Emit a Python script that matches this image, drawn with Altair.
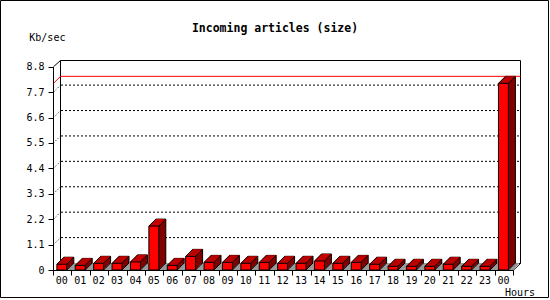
import altair as alt
import pandas as pd

# ---- data ----
hours = ["00", "01", "02", "03", "04", "05", "06", "07", "08", "09", "10", "11",
         "12", "13", "14", "15", "16", "17", "18", "19", "20", "21", "22", "23", "00"]
values = [0.25, 0.20, 0.29, 0.29, 0.35, 1.90, 0.20, 0.59, 0.33, 0.33, 0.29, 0.33,
          0.29, 0.29, 0.39, 0.29, 0.33, 0.25, 0.16, 0.16, 0.16, 0.25, 0.16, 0.16, 8.08]
y_ticks = [0, 1.1, 2.2, 3.3, 4.4, 5.5, 6.6, 7.7, 8.8]
grid_levels = [1.1, 2.2, 3.3, 4.4, 5.5, 6.6, 7.7]

title_text = "Incoming articles (size)"
y_title = "Kb/sec"
x_title = "Hours"

df = pd.DataFrame({"idx": list(range(len(hours))), "hour": hours, "value": values})
grid_df = pd.DataFrame({"v": grid_levels})
one = pd.DataFrame({"a": [0]})

MONO = "DejaVu Sans Mono"
FRONT = "#ff0000"
TOP = "#c40000"
SIDE = "#800000"
FLOOR = "#999999"
D = 7  # 3D depth in pixels

xs = alt.Scale(domain=[0, len(hours)], range=[0, 460], nice=False, zero=False)
ys = alt.Scale(domain=[0, 8.8], range=[210, 6.7], nice=False, zero=True)


def bars_base():
    return alt.Chart(df).transform_calculate(
        x0="datum.idx + 0.21", x1="datum.idx + 0.75", xc="datum.idx + 0.48"
    )


X0 = alt.X("x0:Q", scale=xs, axis=None)
X1 = alt.X2("x1:Q")
YV = alt.Y("value:Q", scale=ys, axis=None)
Y0 = alt.Y(datum=0, scale=ys, axis=None)
Y20 = alt.Y2(datum=0)

layers = []

# outer image border
layers.append(alt.Chart(one).mark_rect(filled=False, stroke="black", strokeWidth=1).encode(
    x=alt.value(-52.5), x2=alt.value(495.5), y=alt.value(-59.5), y2=alt.value(237.5)))

# back wall
layers.append(alt.Chart(one).mark_rect(filled=False, stroke="black", strokeWidth=1).encode(
    x=alt.value(7.5), x2=alt.value(467.5), y=alt.value(0.5), y2=alt.value(203.5)))

# dotted grid lines on back wall
layers.append(alt.Chart(grid_df).mark_rule(color="black", strokeDash=[2, 2], strokeWidth=1,
                                           yOffset=-D).encode(
    y=alt.Y("v:Q", scale=ys, axis=None), x=alt.value(8), x2=alt.value(467)))
# dotted diagonal connectors
layers.append(alt.Chart(grid_df).mark_rule(color="black", strokeDash=[1, 2], strokeWidth=1,
                                           y2Offset=-D).encode(
    y=alt.Y("v:Q", scale=ys, axis=None), y2=alt.Y2("v:Q"), x=alt.value(0.5), x2=alt.value(7.5)))
# solid corner connectors
layers.append(alt.Chart(one).mark_rule(color="black", strokeWidth=1).encode(
    x=alt.value(0.5), x2=alt.value(7.5), y=alt.value(6.7), y2=alt.value(0.5)))
layers.append(alt.Chart(one).mark_rule(color="black", strokeWidth=1).encode(
    x=alt.value(460), x2=alt.value(467.5), y=alt.value(210.5), y2=alt.value(203.5)))

# max line (red)
mx = alt.Chart(df).transform_aggregate(m="max(value)")
layers.append(mx.mark_rule(color="red", strokeWidth=1, yOffset=-D).encode(
    y=alt.Y("m:Q", scale=ys, axis=None), x=alt.value(7.5), x2=alt.value(467.5)))
layers.append(mx.mark_rule(color="red", strokeWidth=1, y2Offset=-D).encode(
    y=alt.Y("m:Q", scale=ys, axis=None), y2=alt.Y2("m:Q"), x=alt.value(0.5), x2=alt.value(7.5)))

# gray floor
for j in range(D):
    layers.append(alt.Chart(one).mark_rule(color=FLOOR, strokeWidth=1.1).encode(
        x=alt.value(3.7 + j), x2=alt.value(460 + j), y=alt.value(209.5 - j)))

# bar extrusion: back copy with outline, then fill copies
layers.append(bars_base().mark_bar(color=SIDE, stroke="black", strokeWidth=1,
                                   xOffset=D, x2Offset=D, yOffset=-D, y2Offset=-D).encode(
    x=X0, x2=X1, y=YV, y2=Y20))
for k in range(D - 1, 0, -1):
    layers.append(bars_base().mark_bar(color=SIDE, strokeWidth=0,
                                       xOffset=k, x2Offset=k, yOffset=-k, y2Offset=-k).encode(
        x=X0, x2=X1, y=YV, y2=Y20))
# top faces
for k in [0.5, 1.5, 2.5, 3.5, 4.5, 5.5, 6.5]:
    layers.append(bars_base().mark_rule(color=TOP, strokeWidth=1.2,
                                        xOffset=k, x2Offset=k, yOffset=-k).encode(
        x=X0, x2=X1, y=YV))
# edges
layers.append(bars_base().mark_rule(color="black", strokeWidth=1, x2Offset=D, y2Offset=-D).encode(
    x=X0, x2=alt.X2("x0:Q"), y=YV, y2=alt.Y2("value:Q")))
layers.append(bars_base().mark_rule(color="black", strokeWidth=1, x2Offset=D, y2Offset=-D).encode(
    x=alt.X("x1:Q", scale=xs, axis=None), x2=alt.X2("x1:Q"), y=YV, y2=alt.Y2("value:Q")))
layers.append(bars_base().mark_rule(color="black", strokeWidth=1, x2Offset=D, y2Offset=-D).encode(
    x=alt.X("x1:Q", scale=xs, axis=None), x2=alt.X2("x1:Q"), y=Y0, y2=Y20))

# front faces with the axes
layers.append(bars_base().mark_bar(color=FRONT, stroke="black", strokeWidth=1).encode(
    x=alt.X("x0:Q", scale=xs, axis=alt.Axis(
        orient="bottom", values=list(range(len(hours) + 1)), labels=False, title=None,
        grid=False, tickSize=5, tickColor="black", domainColor="black", ticks=True)),
    x2=X1,
    y=alt.Y("value:Q", scale=ys, axis=alt.Axis(
        orient="left", values=y_ticks, title=None, grid=False, tickSize=5, labelPadding=4,
        labelExpr="datum.value == 0 ? '0' : format(datum.value, '.1f')",
        labelFont=MONO, labelFontSize=10, labelColor="black",
        tickColor="black", domainColor="black")),
    y2=Y20))

# hour labels
layers.append(bars_base().mark_text(font=MONO, fontSize=10, color="black", align="center",
                                    baseline="alphabetic").encode(
    x=alt.X("xc:Q", scale=xs, axis=None), y=alt.value(223.5), text="hour:N"))

# titles
layers.append(alt.Chart(one).mark_text(font=MONO, fontSize=11.5, fontWeight="bold", color="black",
                                       align="center", baseline="alphabetic", text=title_text).encode(
    x=alt.value(222), y=alt.value(-28.5)))
layers.append(alt.Chart(one).mark_text(font=MONO, fontSize=10, color="black",
                                       align="left", baseline="alphabetic", text=y_title).encode(
    x=alt.value(-23.7), y=alt.value(-19.5)))
layers.append(alt.Chart(one).mark_text(font=MONO, fontSize=10, color="black",
                                       align="left", baseline="alphabetic", text=x_title).encode(
    x=alt.value(452), y=alt.value(236)))

chart = alt.layer(*layers).resolve_axis(x="independent", y="independent").properties(
    width=467, height=210,
    padding={"left": 53, "top": 60, "right": 30, "bottom": 30},
    autosize=alt.AutoSizeParams(type="none"),
    background="white",
).configure_view(stroke="transparent")

chart.save("out.html", embed_options={"renderer": "svg", "actions": False})
